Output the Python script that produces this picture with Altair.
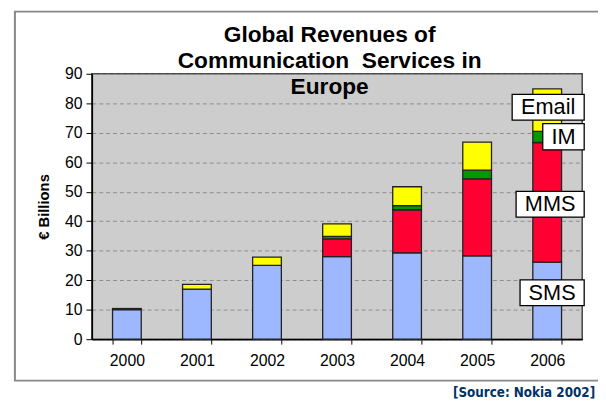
import altair as alt
import pandas as pd

# ---- data ----
years = ["2000", "2001", "2002", "2003", "2004", "2005", "2006"]
sms = [10.0, 17.0, 25.0, 28.0, 29.3, 28.3, 26.1]
mms = [0.0, 0.0, 0.0, 6.0, 14.6, 26.1, 40.6]
im = [0.0, 0.0, 0.0, 0.9, 1.4, 2.9, 3.8]
email = [0.4, 1.6, 2.8, 4.2, 6.4, 9.5, 14.4]
services = ["SMS", "MMS", "IM", "Email"]
colors = ["#9db8fe", "#ff0033", "#009900", "#ffff00"]
y_ticks = [0, 10, 20, 30, 40, 50, 60, 70, 80, 90]

label_text = ["Email", "IM", "MMS", "SMS"]
label_lo = [74.3, 64.2, 41.4, 11.4]
label_hi = [83.0, 73.1, 50.1, 20.1]

# ---- layout / style (not data) ----
label_width = [73, 42, 69, 65]
label_offset = [1, 16.5, 3, 5]
FONT = "Liberation Sans"

rows = []
for i, y in enumerate(years):
    for k, (name, vals) in enumerate(zip(services, [sms, mms, im, email])):
        if vals[i] > 0:
            rows.append({"year": y, "service": name, "value": vals[i], "ord": k})
df = pd.DataFrame(rows)

x_axis = alt.Axis(
    title=None, labelAngle=0, tickBand="extent", tickSize=5,
    labelFontSize=16, labelFont=FONT, labelColor="black", labelPadding=9,
    domainColor="black", tickColor="black", grid=False, domainWidth=1.5,
)
x_scale = alt.Scale(paddingInner=0.59, paddingOuter=0.295)
y_scale = alt.Scale(domain=[0, 90], nice=False)
y_axis = alt.Axis(
    values=y_ticks, tickSize=6, tickColor="black", labelOverlap=False,
    labelFontSize=16, labelFont=FONT, labelColor="black", labelPadding=4,
    domainColor="black", domainWidth=1.5, grid=True, gridDash=[4, 3],
    gridColor="#8c8c8c", gridWidth=1,
    title="€ Billions", titleFontSize=15, titleFont=FONT, titleFontWeight="bold",
    titleColor="black", titlePadding=13,
)


def xe():
    return alt.X("year:N", sort=years, scale=x_scale, axis=x_axis)


bars = alt.Chart(df).mark_bar(stroke="#222222", strokeWidth=1.3).encode(
    x=xe(),
    y=alt.Y("value:Q", scale=y_scale, axis=y_axis, stack="zero"),
    color=alt.Color("service:N", scale=alt.Scale(domain=services, range=colors), legend=None),
    order=alt.Order("ord:Q"),
)

dummy = pd.DataFrame({"a": [0]})

frame = alt.Chart(dummy).mark_rect(fill=None, stroke="#888888", strokeWidth=2).encode(
    x=alt.value(-78), x2=alt.value(530), y=alt.value(-63), y2=alt.value(311)
)

title = alt.Chart(dummy).mark_text(
    text="Global Revenues of\nCommunication\u00a0 Services in\nEurope",
    lineBreak="\n", lineHeight=26, font=FONT, fontSize=23, fontWeight="bold",
    align="center", baseline="middle", color="black",
).encode(x=alt.value(241), y=alt.value(-39))

source = alt.Chart(dummy).mark_text(
    text="[Source: Nokia 2002]", font="DejaVu Sans Condensed", fontSize=13.5,
    fontWeight="bold", align="left", baseline="middle", color="#003366",
).encode(x=alt.value(366), y=alt.value(323.5))

layers = [frame, bars]
for t, lo, hi, w, o in zip(label_text, label_lo, label_hi, label_width, label_offset):
    ldf = pd.DataFrame({"year": ["2006"], "value": [lo], "hi": [hi], "mid": [(lo + hi) / 2], "label": [t]})
    box = alt.Chart(ldf).mark_bar(
        width=w, xOffset=o, fill="white", stroke="black", strokeWidth=1.3
    ).encode(
        x=xe(),
        y=alt.Y("value:Q", scale=y_scale, axis=y_axis, stack=None),
        y2="hi:Q",
    )
    txt = alt.Chart(ldf).mark_text(
        font=FONT, fontSize=22, color="black", dx=o, baseline="middle", align="center"
    ).encode(
        x=xe(),
        y=alt.Y("mid:Q", scale=y_scale, axis=y_axis),
        text="label:N",
    )
    layers += [box, txt]
layers += [title, source]

chart = alt.layer(*layers).properties(
    width=497, height=269,
    autosize=alt.AutoSizeParams(type="none"),
    padding={"left": 85, "top": 64, "right": 16, "bottom": 63},
    background="white",
).configure_view(fill="#cdcdcd", stroke="#444444", strokeWidth=1.5)

chart.save("out.html", embed_options={"renderer": "svg", "actions": False})
